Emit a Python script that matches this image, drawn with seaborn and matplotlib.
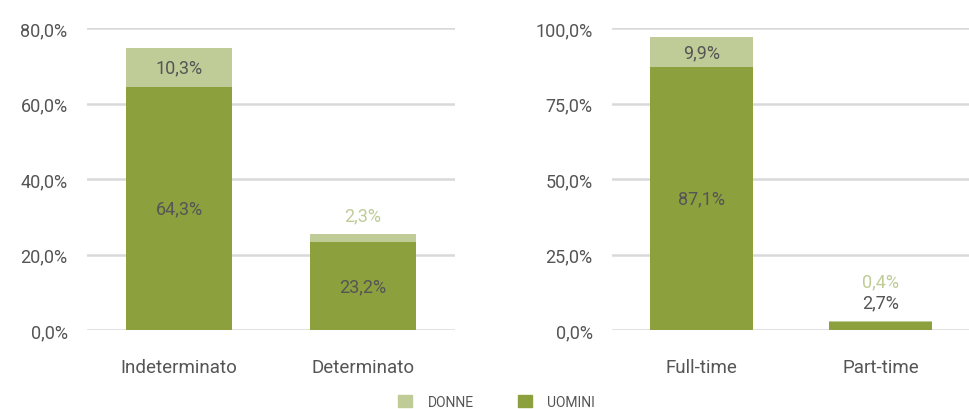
import matplotlib
matplotlib.use("Agg")
import matplotlib.pyplot as plt
import matplotlib.patches as mpatches
from matplotlib.ticker import FuncFormatter
import seaborn as sns
import pandas as pd

# Data
contratto = ["Indeterminato", "Determinato"]
contratto_uomini = [64.3, 23.2]
contratto_donne = [10.3, 2.3]

orario = ["Full-time", "Part-time"]
orario_uomini = [87.1, 2.7]
orario_donne = [9.9, 0.4]

DARK = "#8ca03e"
LIGHT = "#bfcc97"
TEXT = "#555555"
GRID = "#d9d9d9"

sns.set_style("white")
plt.rcParams["font.family"] = ["Roboto", "DejaVu Sans"]


def fmt(v):
    return f"{v:.1f}%".replace(".", ",")


def draw(ax, cats, uomini, donne, ymax, step):
    df = pd.DataFrame({"cat": cats, "uomini": uomini, "donne": donne})
    df["totale"] = df["uomini"] + df["donne"]
    sns.barplot(data=df, x="cat", y="totale", color=LIGHT, width=0.58,
                saturation=1, linewidth=0, ax=ax, zorder=2)
    sns.barplot(data=df, x="cat", y="uomini", color=DARK, width=0.58,
                saturation=1, linewidth=0, ax=ax, zorder=3)
    ax.set_ylim(0, ymax)
    ax.set_yticks([i * step for i in range(int(ymax / step) + 1)])
    ax.yaxis.set_major_formatter(FuncFormatter(lambda v, p: fmt(v)))
    ax.set_xlim(-0.5, 1.5)
    ax.grid(axis="y", color=GRID, linewidth=1.8, zorder=0)
    ax.set_axisbelow(True)
    sns.despine(ax=ax, left=True, bottom=True)
    ax.set_xlabel("")
    ax.set_ylabel("")
    ax.tick_params(axis="y", labelsize=13, colors=TEXT, length=0, pad=14)
    ax.tick_params(axis="x", labelsize=13.5, colors=TEXT, length=0, pad=20)

    for i, row in df.iterrows():
        u, d, t = row["uomini"], row["donne"], row["totale"]
        if u >= 5:
            ax.text(i, u / 2, fmt(u), ha="center", va="center",
                    fontsize=13, color=TEXT, zorder=4)
            if d >= 5:
                ax.text(i, u + d / 2, fmt(d), ha="center", va="center",
                        fontsize=13, color=TEXT, zorder=4)
            else:
                ax.annotate(fmt(d), (i, t), xytext=(0, 7), textcoords="offset points",
                            ha="center", va="bottom", fontsize=13, color=LIGHT)
        else:
            ax.annotate(fmt(u), (i, t), xytext=(0, 7), textcoords="offset points",
                        ha="center", va="bottom", fontsize=13, color=TEXT)
            ax.annotate(fmt(d), (i, t), xytext=(0, 22), textcoords="offset points",
                        ha="center", va="bottom", fontsize=13, color=LIGHT)


fig = plt.figure(figsize=(9.7, 4.1), dpi=100)
ax1 = fig.add_axes([87 / 970, 79 / 410, 368 / 970, 302 / 410])
ax2 = fig.add_axes([612 / 970, 79 / 410, 358 / 970, 302 / 410])

draw(ax1, contratto, contratto_uomini, contratto_donne, 80, 20)
draw(ax2, orario, orario_uomini, orario_donne, 100, 25)

handles = [mpatches.Patch(color=LIGHT, label="DONNE"),
           mpatches.Patch(color=DARK, label="UOMINI")]
leg = fig.legend(handles=handles, loc="center", bbox_to_anchor=(0.512, 0.018),
                 ncol=2, frameon=False, fontsize=10, handlelength=1.0,
                 handleheight=1.0, columnspacing=3.2, handletextpad=1.1)
for t in leg.get_texts():
    t.set_color(TEXT)

fig.savefig("out.png", dpi=100)
